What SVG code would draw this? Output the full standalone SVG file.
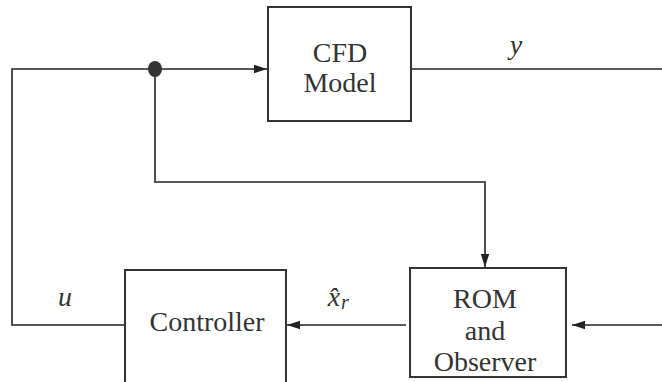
<svg xmlns="http://www.w3.org/2000/svg" width="662" height="382" viewBox="0 0 662 382">
<style>
.box{fill:#fff;stroke:#333;stroke-width:2}
.ln{fill:none;stroke:#222;stroke-width:1.6}
text{fill:#333}
.lbl{font-size:28px;text-anchor:middle}
.mth{font-style:italic;font-size:28px;text-anchor:middle}
.sub{font-style:italic;font-size:20px}
</style>
<defs>
<marker id="arr" markerUnits="userSpaceOnUse" markerWidth="14" markerHeight="10" refX="13" refY="5" orient="auto">
<path d="M0,0.8 L13,5 L0,9.2 Z" fill="#222"/>
</marker>
</defs>
<g id="connectors">
<path class="ln" d="M125,325 H12 V69 H267" marker-end="url(#arr)"/>
<path class="ln" d="M411,69 H662"/>
<path class="ln" d="M155,69 V182 H485 V267" marker-end="url(#arr)"/>
<path class="ln" d="M406,325 H287" marker-end="url(#arr)"/>
<path class="ln" d="M662,325 H572" marker-end="url(#arr)"/>
<ellipse id="junction" cx="155" cy="69" rx="7" ry="8" fill="#333"/>
</g>
<g font-family="Liberation Serif, DejaVu Serif, serif">
<g id="cfd">
<rect class="box" x="268" y="7" width="143" height="114"/>
<text class="lbl" x="340" y="62">CFD</text>
<text class="lbl" x="340" y="92">Model</text>
</g>
<g id="rom">
<rect class="box" x="410" y="268" width="156" height="109"/>
<text class="lbl" x="485" y="308">ROM</text>
<text class="lbl" x="485" y="340">and</text>
<text class="lbl" x="485" y="371">Observer</text>
</g>
<g id="controller">
<rect class="box" x="125" y="270" width="161" height="130"/>
<text class="lbl" x="207" y="331">Controller</text>
</g>
<g id="labels">
<text class="mth" x="516" y="54">y</text>
<text class="mth" x="65" y="306">u</text>
<text class="mth" x="334" y="306">x̂</text>
<text class="sub" x="341" y="309">r</text>
</g>
</g>
</svg>
